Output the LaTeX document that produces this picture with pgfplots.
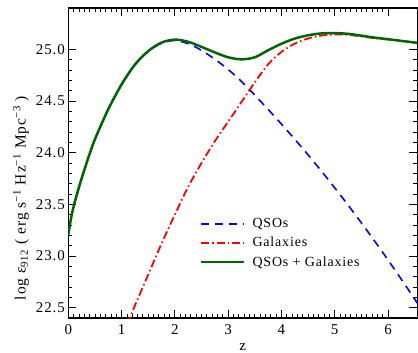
\documentclass[border=0pt]{standalone}
\usepackage{pgfplots}
\pgfplotsset{compat=1.18}
\usepackage{fontspec}
\setmainfont{Liberation Serif}[LetterSpace=6]
\definecolor{qsoblue}{RGB}{0,0,255}
\definecolor{galred}{RGB}{255,0,0}
\definecolor{totgreen}{RGB}{0,100,0}

\begin{document}
\begin{tikzpicture}
\begin{axis}[
  scale only axis,
  width=349bp, height=310bp,
  xmin=0, xmax=6.55, ymin=22.4, ymax=25.4,
  xtick={0,1,2,3,4,5,6},
  ytick={22.5,23.0,23.5,24.0,24.5,25.0},
  yticklabel style={/pgf/number format/fixed,/pgf/number format/fixed zerofill,/pgf/number format/precision=1},
  /pgf/number format/assume math mode=true,
  minor x tick num=9, minor y tick num=4,
  tick align=inside,
  major tick length=8bp, minor tick length=4bp,
  tick style={black, line width=0.8pt},
  axis line style={line width=1.2pt},
  ticklabel style={font=\fontsize{15}{17}\selectfont},
  xticklabel style={yshift=-3bp},
  xlabel={z},
  xlabel style={at={(axis description cs:0.5,0)}, anchor=center, yshift=-29bp,
    font=\fontsize{15}{17}\selectfont},
  ylabel={log ε\textsubscript{912} ( erg s\textsuperscript{−1} Hz\textsuperscript{−1} Mpc\textsuperscript{−3} )},
  ylabel style={at={(axis description cs:-0.135,0.387)}, anchor=center,
    font=\fontsize{15.5}{17}\selectfont},
  legend style={at={(0.377,0.328)}, anchor=north west, draw=none, fill=none,
    inner xsep=0pt, inner ysep=0pt,
    font=\fontsize{14}{16}\selectfont, row sep=4bp,
    nodes={inner xsep=7bp}},
  legend cell align=left,
  legend image code/.code={\draw[#1] (0bp,0bp) -- (43bp,0bp);},
  clip=true,
]
% QSO contribution
\addplot[qsoblue, line width=1.6pt, dash pattern=on 8bp off 6bp, smooth] coordinates {
 (0,23.21) (0.05,23.36) (0.1,23.48) (0.175,23.62) (0.25,23.75) (0.375,23.95)
 (0.5,24.13) (0.75,24.42) (1.0,24.66) (1.25,24.85) (1.5,24.98) (1.75,25.06)
 (2.0,25.085) (2.25,25.055) (2.5,24.99) (2.75,24.905) (3.0,24.805) (3.25,24.69)
 (3.5,24.556) (3.75,24.419) (4.0,24.277) (4.25,24.130) (4.5,23.979) (4.75,23.822)
 (5.0,23.660) (5.25,23.493) (5.5,23.321) (5.75,23.144) (6.0,22.962) (6.25,22.775)
 (6.5,22.583) (6.55,22.544)
};
\addlegendentry{QSOs}
% Galaxy contribution
\addplot[galred, line width=1.8pt, dash pattern=on 8bp off 3bp on 1.5bp off 3bp, smooth] coordinates {
 (1.0,22.20) (1.25,22.52) (1.5,22.82) (1.75,23.12) (2.0,23.40) (2.25,23.67)
 (2.5,23.90) (2.75,24.11) (3.0,24.30) (3.25,24.49) (3.5,24.68) (3.75,24.855)
 (4.0,24.975) (4.25,25.055) (4.5,25.105) (4.75,25.133) (5.0,25.143) (5.25,25.14)
 (5.5,25.125) (5.75,25.108) (6.0,25.095) (6.25,25.08) (6.5,25.065) (6.55,25.062)
};
\addlegendentry{Galaxies}
% Sum of both contributions
\addplot[totgreen, line width=2.5pt, smooth] coordinates {
 (0,23.21) (0.05,23.36) (0.1,23.48) (0.175,23.62) (0.25,23.75) (0.375,23.95)
 (0.5,24.13) (0.75,24.42) (1.0,24.66) (1.25,24.852) (1.5,24.983) (1.75,25.065)
 (2.0,25.094) (2.25,25.073) (2.5,25.024) (2.75,24.970) (3.0,24.923) (3.25,24.903)
 (3.5,24.923) (3.75,24.991) (4.0,25.054) (4.25,25.104) (4.5,25.136) (4.75,25.154)
 (5.0,25.157) (5.25,25.150) (5.5,25.132) (5.75,25.113) (6.0,25.098) (6.25,25.082)
 (6.5,25.066) (6.55,25.063)
};
\addlegendentry{QSOs + Galaxies}
\end{axis}
\pgfresetboundingbox
\path[use as bounding box] (current axis.south west) ++(-68.3bp,-35bp) rectangle ++(418bp,353bp);
\end{tikzpicture}
\end{document}
